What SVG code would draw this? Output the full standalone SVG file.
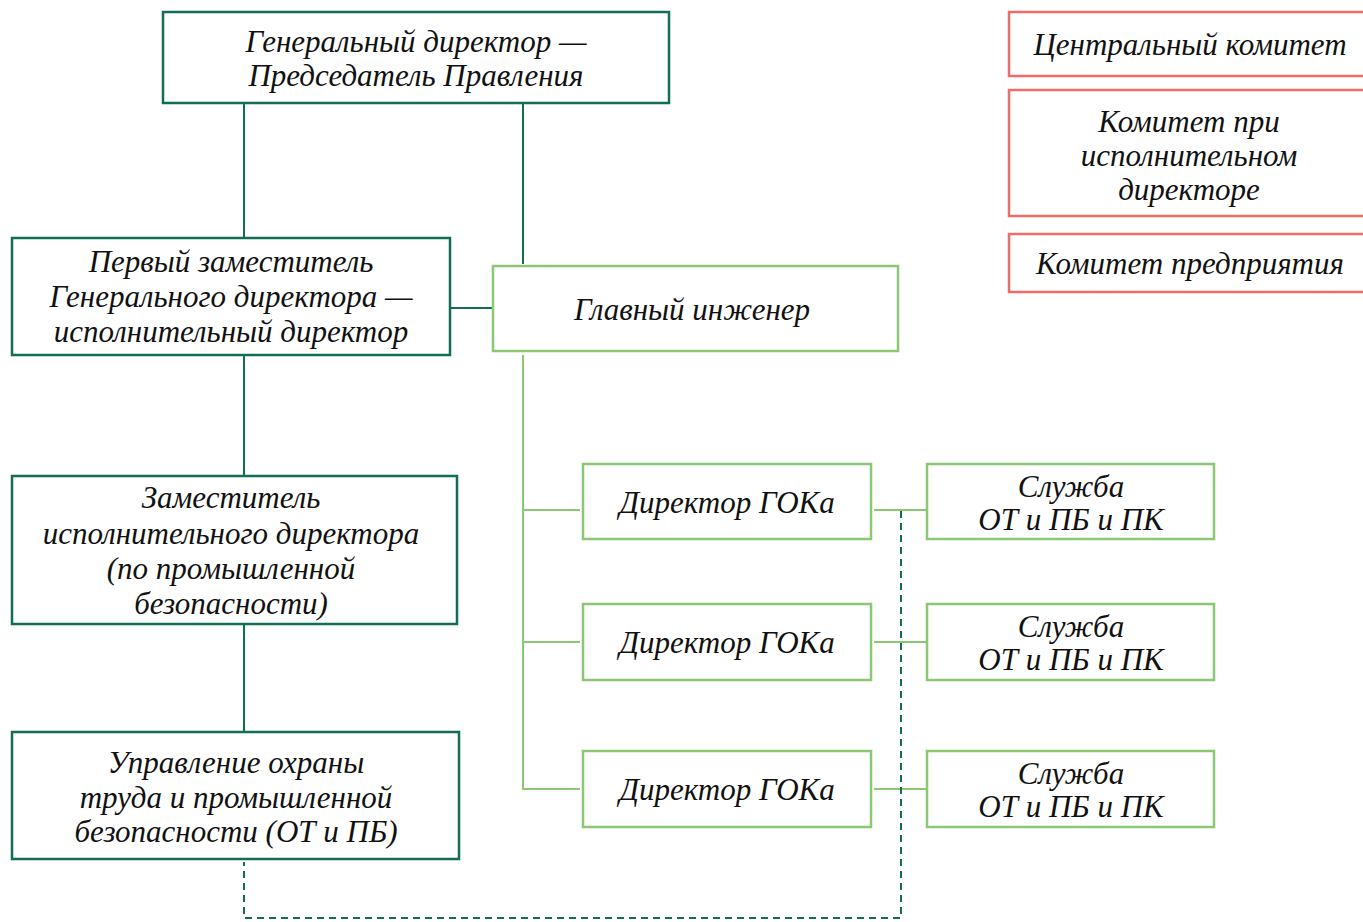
<svg xmlns="http://www.w3.org/2000/svg" width="1363" height="922" viewBox="0 0 1363 922">
<style>
.dk{fill:#fff;stroke:#106e55;stroke-width:2.5}
.lt{fill:#fff;stroke:#8cc874;stroke-width:2.5}
.rd{fill:#fff;stroke:#ec6e68;stroke-width:2.5}
.cd{stroke:#106e55;stroke-width:2;fill:none}
.cl{stroke:#8cc874;stroke-width:2;fill:none}
.ds{stroke:#106e55;stroke-width:2;fill:none;stroke-dasharray:7,5}
text{font-family:"Liberation Serif","Times New Roman",serif;font-style:italic;font-size:31px;fill:#111;text-anchor:middle}
</style>
<g id="connectors">
<line class="cd" x1="244" y1="103" x2="244" y2="238"/>
<line class="cd" x1="523" y1="103" x2="523" y2="264"/>
<line class="cd" x1="450" y1="308" x2="493" y2="308"/>
<line class="cd" x1="244" y1="355" x2="244" y2="476"/>
<line class="cd" x1="244" y1="624" x2="244" y2="732"/>
<line class="cl" x1="523" y1="355" x2="523" y2="790"/>
<line class="cl" x1="523" y1="510" x2="580" y2="510"/>
<line class="cl" x1="523" y1="642" x2="580" y2="642"/>
<line class="cl" x1="523" y1="789" x2="580" y2="789"/>
<line class="cl" x1="874" y1="510" x2="927" y2="510"/>
<line class="cl" x1="874" y1="642" x2="927" y2="642"/>
<line class="cl" x1="874" y1="789" x2="927" y2="789"/>
<path class="ds" d="M901 511 V918 H244 V862"/>
</g>
<g id="gen"><rect class="dk" x="163" y="12" width="506" height="91"/><text x="416" y="52">Генеральный директор —</text><text x="416" y="86">Председатель Правления</text></g>
<g id="first"><rect class="dk" x="12" y="238" width="438" height="117"/><text x="231" y="272">Первый заместитель</text><text x="231" y="307">Генерального директора —</text><text x="231" y="342">исполнительный директор</text></g>
<g id="chief"><rect class="lt" x="493" y="266" width="405" height="85"/><text x="692" y="320">Главный инженер</text></g>
<g id="deputy"><rect class="dk" x="12" y="476" width="445" height="148"/><text x="231" y="508">Заместитель</text><text x="231" y="544">исполнительного директора</text><text x="231" y="579">(по промышленной</text><text x="231" y="614">безопасности)</text></g>
<g id="dept"><rect class="dk" x="12" y="732" width="447" height="127"/><text x="236" y="773">Управление охраны</text><text x="236" y="808">труда и промышленной</text><text x="236" y="842">безопасности (ОТ и ПБ)</text></g>
<g id="gok1"><rect class="lt" x="583" y="464" width="288" height="75"/><text x="727" y="513">Директор ГОКа</text></g>
<g id="gok2"><rect class="lt" x="583" y="604" width="288" height="76"/><text x="727" y="653">Директор ГОКа</text></g>
<g id="gok3"><rect class="lt" x="583" y="751" width="288" height="76"/><text x="727" y="800">Директор ГОКа</text></g>
<g id="sl1"><rect class="lt" x="927" y="464" width="287" height="75"/><text x="1071" y="497">Служба</text><text x="1071" y="530">ОТ и ПБ и ПК</text></g>
<g id="sl2"><rect class="lt" x="927" y="604" width="287" height="76"/><text x="1071" y="637">Служба</text><text x="1071" y="670">ОТ и ПБ и ПК</text></g>
<g id="sl3"><rect class="lt" x="927" y="751" width="287" height="76"/><text x="1071" y="784">Служба</text><text x="1071" y="817">ОТ и ПБ и ПК</text></g>
<g id="cc"><rect class="rd" x="1009" y="12" width="370" height="64"/><text x="1190" y="55">Центральный комитет</text></g>
<g id="ce"><rect class="rd" x="1009" y="90" width="370" height="126"/><text x="1189" y="132">Комитет при</text><text x="1189" y="166">исполнительном</text><text x="1189" y="200">директоре</text></g>
<g id="cp"><rect class="rd" x="1009" y="234" width="370" height="58"/><text x="1190" y="274">Комитет предприятия</text></g>
</svg>
